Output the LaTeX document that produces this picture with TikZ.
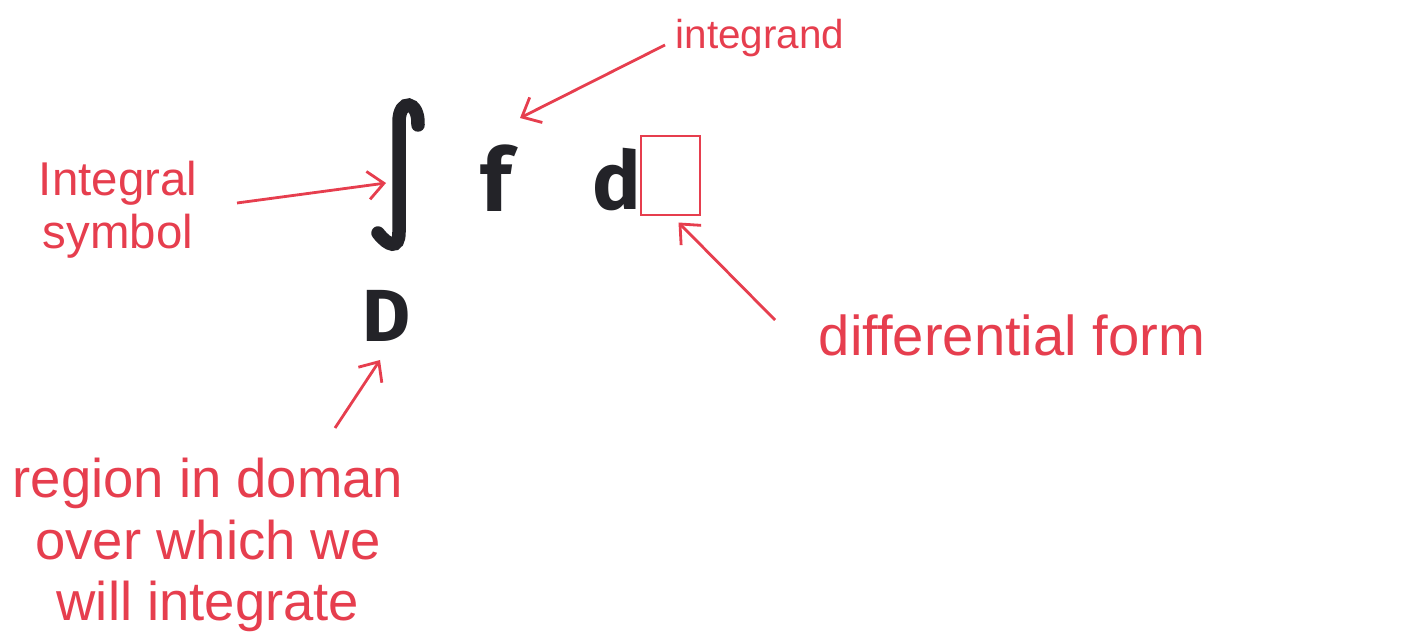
\documentclass[tikz,border=0pt]{standalone}
\usepackage{fontspec}
\setmainfont{Liberation Sans}
\newfontfamily\markerfont{Fira Sans}
\usetikzlibrary{arrows.meta,calc}
\definecolor{pen}{RGB}{230,62,78}
\definecolor{ink}{RGB}{35,35,40}
\tikzset{
  hand/.style={text=pen,font=\fontsize{26}{32}\selectfont,inner sep=0pt,align=center},
  arr/.style={draw=pen,line width=1.6pt,-{Straight Barb[length=9pt,width=16pt,line width=1.6pt]}},
  sym/.style={text=ink,inner sep=0pt},
}
\begin{document}
\begin{tikzpicture}[x=0.02cm,y=-0.02cm]
\useasboundingbox (0,0) rectangle (1405,641);
% integral sign
\draw[ink,line width=0.27cm,line cap=round]
  (418,125) .. controls (419,100) and (399,98) .. (399,122)
  -- (399,232) .. controls (399,250) and (388,246) .. (378,233);
\node[minimum width=1cm,minimum height=3cm] (int) at (398,175) {};
\node[sym,font=\markerfont\bfseries\fontsize{50}{50}\selectfont] (f) at (496,178) {f};
\node[sym,font=\markerfont\bfseries\fontsize{46}{46}\selectfont] (d) at (617,180) {d};
\node[draw=pen,line width=1.3pt,minimum width=1.18cm,minimum height=1.58cm,inner sep=0pt] (box) at (670.5,175.5) {};
\node[sym,font=\markerfont\bfseries\fontsize{42}{42}\selectfont] (D) at (387,316) {D};
% labels
\node[hand,font=\fontsize{23}{28}\selectfont] (integrand) at (760,38) {integrand};
\node[hand,font=\fontsize{27}{30}\selectfont] (intsym) at (118,210) {Integral\\symbol};
\node[hand,font=\fontsize{32}{36}\selectfont] (diff) at (1012,335) {differential form};
\node[hand,font=\fontsize{31}{35}\selectfont] (region) at (208,545) {region in doman\\over which we\\will integrate};
% arrows
\draw[arr] ([shift={(-95,7)}]integrand.center) -- ([shift={(24,-60)}]f.center);
\draw[arr] ([shift={(119,-7)}]intsym.center) -- ([shift={(-12,8)}]int.center);
\draw[arr] ([shift={(-237,-15)}]diff.center) -- ([shift={(8,47)}]box.center);
\draw[arr] ([shift={(127,-117)}]region.center) -- ([shift={(-7,44)}]D.center);
\end{tikzpicture}
\end{document}
